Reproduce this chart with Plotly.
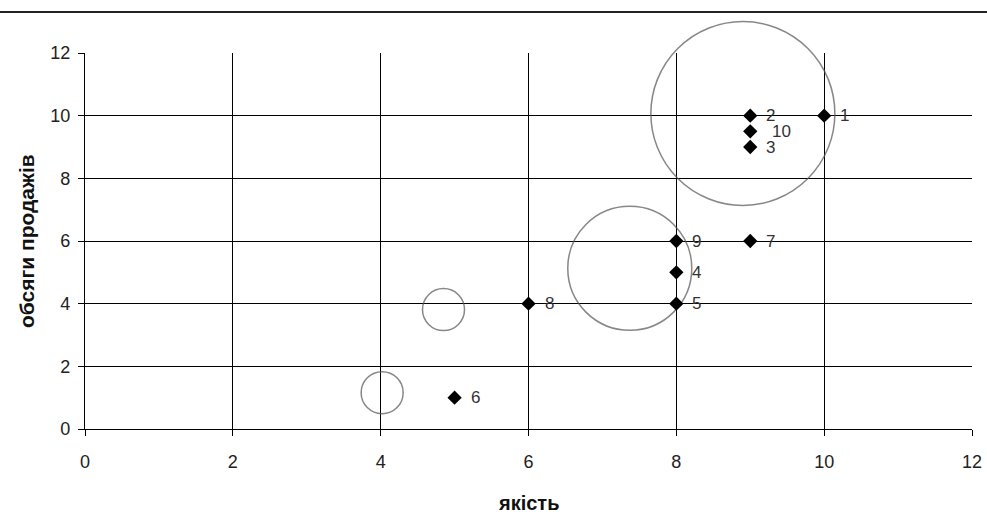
import plotly.graph_objects as go

# point series (quality, sales volume, label)
point_x = [10, 9, 9, 8, 8, 5, 9, 6, 8, 9]
point_y = [10, 10, 9, 5, 4, 1, 6, 4, 6, 9.5]
point_labels = ["1", "2", "3", "4", "5", "6", "7", "8", "9", "10"]

# bubble series
bubble_x = [8.9, 7.37, 4.85, 4.02]
bubble_y = [10.07, 5.13, 3.81, 1.16]
bubble_size = [9.2, 6.2, 2.1, 2.1]

x_ticks = [0, 2, 4, 6, 8, 10, 12]
y_ticks = [0, 2, 4, 6, 8, 10, 12]

x_title = "якість"
y_title = "обсяги продажів"

FONT = "'Liberation Sans', Arial, sans-serif"

fig = go.Figure()

fig.add_trace(go.Scatter(
    x=bubble_x, y=bubble_y, mode="markers", cliponaxis=False,
    marker=dict(size=bubble_size, sizemode="diameter", sizeref=0.05,
                color="rgba(0,0,0,0)", line=dict(color="#555555", width=1.5)),
    hoverinfo="skip", showlegend=False,
))

fig.add_trace(go.Scatter(
    x=point_x, y=point_y, mode="markers", cliponaxis=False,
    marker=dict(symbol="diamond", size=11, color="black"),
    showlegend=False,
))

for xv, yv, lab in zip(point_x, point_y, point_labels):
    fig.add_annotation(x=xv, y=yv, text=lab, showarrow=False,
                       xanchor="left", yanchor="middle",
                       xshift=(20 if lab == "10" else 14),
                       font=dict(family=FONT, size=17, color="#333333"))

# axis titles
fig.add_annotation(xref="paper", yref="paper", x=0.5, y=-74/376, yanchor="middle",
                   text="<b>" + x_title + "</b>", showarrow=False,
                   font=dict(family=FONT, size=20, color="#111111"))
fig.add_annotation(xref="paper", yref="paper", x=-59/887, y=0.5, xanchor="center",
                   text="<b>" + y_title + "</b>", showarrow=False, textangle=-90,
                   font=dict(family=FONT, size=21, color="#111111"))

# top rule of the page
fig.add_shape(type="line", xref="paper", yref="paper",
              x0=-85/887, x1=1+15/887, y0=1+41/376, y1=1+41/376,
              line=dict(color="#222222", width=2))

axis_common = dict(range=[0, 12], showgrid=True, gridcolor="black", gridwidth=1.2,
                   zeroline=False, showline=True, linecolor="black", linewidth=1.2,
                   ticks="outside", ticklen=6, tickcolor="black", automargin=False,
                   tickfont=dict(size=18, family=FONT, color="#222222"))

fig.update_layout(
    width=987, height=516,
    margin=dict(l=85, r=15, t=53, b=87),
    plot_bgcolor="white", paper_bgcolor="white",
    font=dict(family=FONT, color="#222222"),
    xaxis=dict(tickvals=x_ticks, ticklabelstandoff=10, **axis_common),
    yaxis=dict(tickvals=y_ticks, ticklabelstandoff=4, **axis_common),
)

fig.write_html("out.html", config={"displayModeBar": False},
               post_script="document.body.style.margin='0';document.body.style.overflow='hidden';")
